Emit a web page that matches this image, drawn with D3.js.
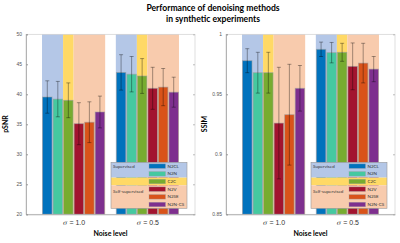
<!DOCTYPE html>
<html>
<head>
<meta charset="utf-8">
<script src="https://cdn.jsdelivr.net/npm/d3@7"></script>
<style>
  body { margin: 0; background: #fff; }
  svg { display: block; font-family: Lato, "Open Sans", sans-serif; }
</style>
</head>
<body>
<div id="chart"></div>
<script>
// data
var methods = ['N2CL', 'N2N', 'C2C', 'N2V', 'N2SE', 'N2N-CS'];
var noiseLevels = ['1.0', '0.5'];
var psnrMean = [[39.55, 39.2, 39.0, 35.1, 35.35, 37.05], [43.65, 43.35, 43.05, 41.0, 41.2, 40.35]];
var psnrErr = [[2.7, 2.95, 2.9, 3.5, 3.4, 2.65], [2.95, 2.95, 2.9, 3.5, 3.1, 2.5]];
var ssimMean = [[0.978, 0.968, 0.968, 0.926, 0.933, 0.955], [0.9875, 0.9847, 0.985, 0.9733, 0.976, 0.971]];
var ssimErr = [[0.010, 0.017, 0.017, 0.0465, 0.042, 0.019], [0.006, 0.0085, 0.0075, 0.0195, 0.0165, 0.0105]];
var psnrTicks = [20, 25, 30, 35, 40, 45, 50];
var ssimTicks = [0.85, 0.9, 0.95, 1];
var groups = ['Supervised', '', 'Self-supervised'];

var colors = ['#0072bd', '#45c9a0', '#77ac30', '#a2142f', '#d95319', '#7e2f8e'];
var bgColors = ['#b4c7e7', '#ffd966', '#f8cbad'];

var W = 400, H = 243;
var svg = d3.select('#chart').append('svg')
  .attr('width', W)
  .attr('height', H);

svg.append('text')
  .attr('x', 213).attr('y', 11)
  .attr('text-anchor', 'middle')
  .style('font-size', '8.6px').style('font-weight', 'bold')
  .text('Performance of denoising methods');
svg.append('text')
  .attr('x', 213).attr('y', 22)
  .attr('text-anchor', 'middle')
  .style('font-size', '8.6px').style('font-weight', 'bold')
  .text('in synthetic experiments');

var step = 0.1426, barW = 0.128;

function panel(x0, x1, means, errs, yDomain, ticks, fmt, ylabel, labelX) {
  var x = d3.scaleLinear().domain([0.355, 2.645]).range([x0, x1]);
  var y = d3.scaleLinear().domain(yDomain).range([214.3, 34.3]);
  var g = svg.append('g');

  // background bands
  noiseLevels.forEach(function(n, gi) {
    var c = gi + 1;
    var spans = [[c - 3 * step, c - step], [c - step, c], [c, c + 3 * step]];
    spans.forEach(function(s, k) {
      g.append('rect')
        .attr('x', x(s[0])).attr('y', y(yDomain[1]))
        .attr('width', x(s[1]) - x(s[0]))
        .attr('height', y(yDomain[0]) - y(yDomain[1]))
        .attr('fill', bgColors[k]);
    });
  });

  // bars
  noiseLevels.forEach(function(n, gi) {
    var c = gi + 1;
    g.append('g').selectAll('rect')
      .data(means[gi])
      .enter().append('rect')
      .attr('x', function(d, i) { return x(c + (i - 2.5) * step - barW / 2); })
      .attr('y', function(d) { return y(d); })
      .attr('width', x(barW) - x(0))
      .attr('height', function(d) { return y(yDomain[0]) - y(d); })
      .attr('fill', function(d, i) { return colors[i]; })
      .attr('stroke', 'rgba(160,160,160,0.7)')
      .attr('stroke-width', 0.8);

    var eb = g.append('g').selectAll('g')
      .data(means[gi])
      .enter().append('g')
      .attr('stroke', 'rgba(0,0,0,0.45)')
      .attr('stroke-width', 0.8);
    eb.append('line')
      .attr('x1', function(d, i) { return x(c + (i - 2.5) * step); })
      .attr('x2', function(d, i) { return x(c + (i - 2.5) * step); })
      .attr('y1', function(d, i) { return y(d + errs[gi][i]); })
      .attr('y2', function(d, i) { return y(d - errs[gi][i]); });
    [1, -1].forEach(function(sg) {
      eb.append('line')
        .attr('x1', function(d, i) { return x(c + (i - 2.5) * step) - 2; })
        .attr('x2', function(d, i) { return x(c + (i - 2.5) * step) + 2; })
        .attr('y1', function(d, i) { return y(d + sg * errs[gi][i]); })
        .attr('y2', function(d, i) { return y(d + sg * errs[gi][i]); });
    });
  });

  // box
  g.append('rect')
    .attr('x', x0).attr('y', y(yDomain[1]))
    .attr('width', x1 - x0).attr('height', y(yDomain[0]) - y(yDomain[1]))
    .attr('fill', 'none').attr('stroke', '#d0d0d0').attr('stroke-width', 0.7);

  var yAxis = d3.axisLeft(y).tickValues(ticks).tickFormat(fmt).tickSize(-2).tickPadding(4);
  var ya = g.append('g').attr('transform', 'translate(' + x0 + ',0)').call(yAxis);
  ya.select('.domain').attr('stroke', '#999').attr('stroke-width', 0.7);
  ya.selectAll('.tick line').attr('stroke', '#999');
  ya.selectAll('text').style('font-size', '5px').attr('fill', '#555');

  var yAxisR = d3.axisRight(y).tickValues(ticks).tickFormat('').tickSize(-2);
  var yr = g.append('g').attr('transform', 'translate(' + x1 + ',0)').call(yAxisR);
  yr.select('.domain').remove();
  yr.selectAll('.tick line').attr('stroke', '#bbb');

  var xAxis = d3.axisBottom(x).tickValues([1, 2]).tickFormat('').tickSize(0);
  var xa = g.append('g').attr('transform', 'translate(0,' + y(yDomain[0]) + ')').call(xAxis);
  xa.select('.domain').attr('stroke', '#999').attr('stroke-width', 0.7);
  var lbl = xa.selectAll('.tick').append('text')
    .attr('y', 11)
    .attr('text-anchor', 'middle')
    .style('font-size', '7px').attr('fill', '#333');
  lbl.append('tspan').style('font-style', 'italic').style('font-family', '"DejaVu Serif", serif')
    .style('font-size', '6.5px').text('\u03c3');
  lbl.append('tspan').text(function(d) { return ' = ' + noiseLevels[d - 1]; });

  g.append('text')
    .attr('transform', 'translate(' + labelX + ',124) rotate(-90)')
    .attr('text-anchor', 'middle')
    .style('font-size', '7px').style('font-weight', 'bold')
    .text(ylabel);
  g.append('text')
    .attr('x', (x0 + x1) / 2).attr('y', 236)
    .attr('text-anchor', 'middle')
    .style('font-size', '7px').style('font-weight', 'bold')
    .text('Noise level');

  // legend
  var lx = x0 + 85, ly = 162.3, lw = 76, rowH = 7.67;
  var lg = g.append('g');
  var bands = [[0, 2], [2, 3], [3, 6]];
  bands.forEach(function(b, k) {
    lg.append('rect')
      .attr('x', lx).attr('y', ly + b[0] * rowH)
      .attr('width', lw).attr('height', (b[1] - b[0]) * rowH)
      .attr('fill', bgColors[k]);
    if (groups[k]) {
      lg.append('text')
        .attr('x', lx + 2).attr('y', ly + (b[0] + (k === 0 ? 0.55 : 0.8)) * rowH)
        .attr('dy', '0.35em')
        .style('font-size', '4.5px').attr('fill', '#333')
        .text(groups[k]);
    }
  });
  lg.selectAll('rect.sw').data(methods).enter().append('rect')
    .attr('class', 'sw')
    .attr('x', lx + 38).attr('y', function(d, i) { return ly + i * rowH + 1.6; })
    .attr('width', 16.5).attr('height', 4.5)
    .attr('fill', function(d, i) { return colors[i]; })
    .attr('stroke', 'rgba(160,160,160,0.7)').attr('stroke-width', 0.5);
  lg.selectAll('text.lb').data(methods).enter().append('text')
    .attr('class', 'lb')
    .attr('x', lx + 56.5).attr('y', function(d, i) { return ly + (i + 0.5) * rowH; })
    .attr('dy', '0.35em')
    .style('font-size', '4.5px').attr('fill', '#333')
    .text(function(d) { return d; });
  lg.append('rect')
    .attr('x', lx).attr('y', ly)
    .attr('width', lw).attr('height', 6 * rowH)
    .attr('fill', 'none').attr('stroke', '#999').attr('stroke-width', 0.6);
}

panel(26, 195, psnrMean, psnrErr, [20, 50], psnrTicks, d3.format('d'), 'pSNR', 8);
panel(226, 395, ssimMean, ssimErr, [0.85, 1], ssimTicks, function(d) { return d === 1 ? '1' : String(d); }, 'SSIM', 207);
</script>
</body>
</html>
